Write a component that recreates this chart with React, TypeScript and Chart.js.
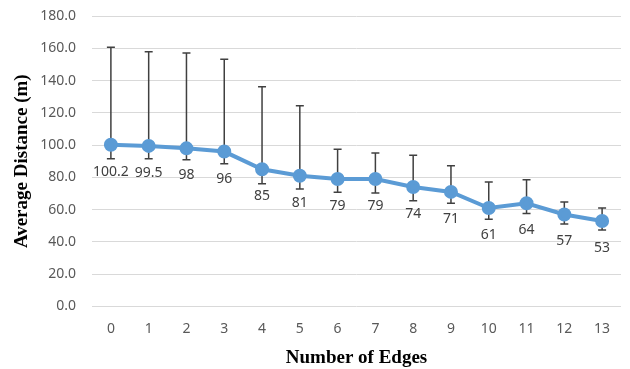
import React, { useEffect, useRef } from "react";
import { Chart, registerables } from "chart.js";

Chart.register(...registerables);

const categories = ["0", "1", "2", "3", "4", "5", "6", "7", "8", "9", "10", "11", "12", "13"];
const meanValues = [100.2, 99.5, 98, 96, 85, 81, 79, 79, 74, 71, 61, 64, 57, 53];
const valueLabels = ["100.2", "99.5", "98", "96", "85", "81", "79", "79", "74", "71", "61", "64", "57", "53"];
const upperValues = [160.6, 157.9, 157.1, 153.2, 136.2, 124.4, 97.4, 95.1, 93.7, 87.2, 77.1, 78.6, 64.7, 61];
const lowerValues = [91.6, 91.6, 91, 88.5, 76.1, 72.8, 70.8, 70.3, 65.6, 63.9, 54, 57.7, 51.1, 47.4];

const errorBarPlugin = {
  id: "errorBars",
  beforeDatasetsDraw(chart: any) {
    const ctx = chart.ctx;
    const meta = chart.getDatasetMeta(0);
    const y = chart.scales.y;
    ctx.save();
    ctx.strokeStyle = "#404040";
    ctx.lineWidth = 1.5;
    meta.data.forEach((pt: any, i: number) => {
      const x = pt.x;
      const yt = y.getPixelForValue(upperValues[i]);
      const yb = y.getPixelForValue(lowerValues[i]);
      ctx.beginPath();
      ctx.moveTo(x, yt);
      ctx.lineTo(x, yb);
      ctx.moveTo(x - 4, yt);
      ctx.lineTo(x + 4, yt);
      ctx.moveTo(x - 4, yb);
      ctx.lineTo(x + 4, yb);
      ctx.stroke();
    });
    ctx.restore();
  },
  afterDatasetsDraw(chart: any) {
    const ctx = chart.ctx;
    const meta = chart.getDatasetMeta(0);
    ctx.save();
    ctx.fillStyle = "#404040";
    ctx.font = "14px 'Noto Sans'";
    ctx.textAlign = "center";
    ctx.textBaseline = "middle";
    meta.data.forEach((pt: any, i: number) => {
      ctx.fillText(valueLabels[i], pt.x, pt.y + 27);
    });
    ctx.restore();
  },
};

export default function App() {
  const ref = useRef<HTMLCanvasElement>(null);
  useEffect(() => {
    document.body.style.margin = "0";
    const chart = new Chart(ref.current!, {
      type: "line",
      data: {
        labels: categories,
        datasets: [
          {
            data: meanValues,
            borderColor: "#5B9BD5",
            backgroundColor: "#5B9BD5",
            borderWidth: 4,
            pointRadius: 5,
            pointBackgroundColor: "#5B9BD5",
            pointBorderColor: "#5B9BD5",
            tension: 0,
          },
        ],
      },
      options: {
        animation: false,
        responsive: false,
        layout: { padding: { top: 16, right: 8, left: 0, bottom: 0 } },
        plugins: { legend: { display: false }, tooltip: { enabled: false } },
        scales: {
          x: {
            offset: true,
            grid: { display: false, drawTicks: false },
            border: { display: false },
            ticks: { color: "#595959", font: { size: 14, family: "'Noto Sans'" }, padding: 14 },
            title: {
              display: true,
              text: "Number of Edges",
              color: "#000",
              font: { size: 19, weight: "bold", family: "'Liberation Serif'" },
              padding: { top: 2, bottom: 0 },
            },
            afterFit: (s: any) => {
              s.height = 62.5;
            },
          },
          y: {
            min: 0,
            max: 180,
            ticks: {
              stepSize: 20,
              color: "#595959",
              font: { size: 14, family: "'Noto Sans'" },
              padding: 16,
              callback: (v: any) => Number(v).toFixed(1),
            },
            grid: { color: "#d9d9d9", lineWidth: 1, drawTicks: false },
            border: { display: false },
            title: {
              display: true,
              text: "Average Distance (m)",
              color: "#000",
              font: { size: 19, weight: "bold", family: "'Liberation Serif'" },
              padding: { top: 11, bottom: 0 },
            },
            afterFit: (s: any) => {
              s.width = 92;
              s.paddingTop = 0;
              s.paddingBottom = 0;
            },
          },
        },
      },
      plugins: [errorBarPlugin],
    });
    return () => chart.destroy();
  }, []);
  return <canvas ref={ref} width={630} height={369} style={{ display: "block" }} />;
}
